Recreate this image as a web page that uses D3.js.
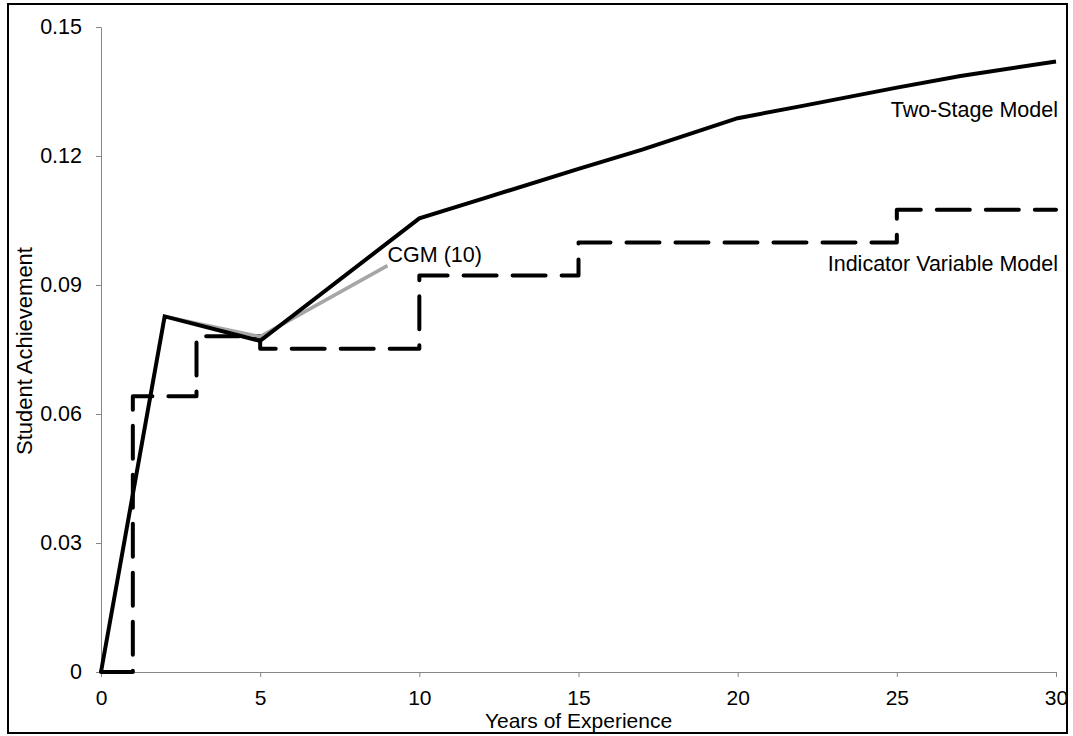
<!DOCTYPE html>
<meta charset="utf-8">
<style>
body { margin: 0; background: #fff; }
svg text { font-family: "Liberation Sans", Arial, sans-serif; fill: #000; }
.axis path, .axis line { stroke: #868686; }
.axis text { font-size: 21.5px; }
.axis.x-axis text { font-size: 21px; }
</style>
<body>
<script src="https://cdn.jsdelivr.net/npm/d3@7"></script>
<script>

// chart values
var twoStageYears = [0, 2, 5, 10, 12, 15, 17, 20, 22, 25, 27, 30];
var twoStageValues = [0, 0.0827, 0.0770, 0.1055, 0.1101, 0.1170, 0.1215, 0.1288, 0.1316, 0.1359, 0.1386, 0.1420];

var indicatorYears = [0, 1, 3, 5, 10, 15, 25, 30];
var indicatorValues = [0, 0.0641, 0.0781, 0.0752, 0.0922, 0.0999, 0.1075, 0.1075];

var cgmYears = [2, 5, 9];
var cgmValues = [0.0827, 0.0780, 0.0945];

var xTicks = [0, 5, 10, 15, 20, 25, 30];
var yTicks = [0, 0.03, 0.06, 0.09, 0.12, 0.15];

var W = 1073, H = 736;
var margin = {top: 27, right: 17, bottom: 64, left: 101},
    width = 1056 - margin.left,
    height = 672 - margin.top;

var svg = d3.select("body").append("svg")
    .attr("width", W)
    .attr("height", H);

// outer frame
svg.append("rect")
    .attr("x", 8).attr("y", 4)
    .attr("width", 1059).attr("height", 729)
    .attr("fill", "none")
    .attr("stroke", "#000")
    .attr("stroke-width", 2);

var g = svg.append("g")
    .attr("transform", "translate(" + margin.left + "," + margin.top + ")");

var x = d3.scaleLinear().domain([0, 30]).range([0, width]);
var y = d3.scaleLinear().domain([0, 0.15]).range([height, 0]);

// axes
g.append("g")
    .attr("class", "axis x-axis")
    .attr("transform", "translate(0," + height + ")")
    .call(d3.axisBottom(x).tickValues(xTicks).tickSize(5).tickSizeOuter(0).tickPadding(13)
      .tickFormat(d3.format("d")));

g.append("g")
    .attr("class", "axis")
    .call(d3.axisLeft(y).tickValues(yTicks).tickSize(5).tickSizeOuter(0).tickPadding(14)
      .tickFormat(function(d) { return d === 0 ? "0" : d3.format(".2f")(d); }));

g.selectAll(".axis .domain").attr("stroke", "#868686");

// indicator variable model (step)
var stepLine = d3.line()
    .x(function(d) { return x(d[0]); })
    .y(function(d) { return y(d[1]); })
    .curve(d3.curveStepAfter);

g.append("path")
    .datum(d3.zip(indicatorYears, indicatorValues))
    .attr("d", stepLine)
    .attr("fill", "none")
    .attr("stroke", "#000")
    .attr("stroke-width", 4)
    .attr("stroke-dasharray", "33,16")
    .attr("stroke-linecap", "round")
    .attr("stroke-linejoin", "round");

var line = d3.line()
    .x(function(d) { return x(d[0]); })
    .y(function(d) { return y(d[1]); });

// CGM (10)
g.append("path")
    .datum(d3.zip(cgmYears, cgmValues))
    .attr("d", line)
    .attr("fill", "none")
    .attr("stroke", "#a6a6a6")
    .attr("stroke-width", 3.5);

// two-stage model
g.append("path")
    .datum(d3.zip(twoStageYears, twoStageValues))
    .attr("d", line)
    .attr("fill", "none")
    .attr("stroke", "#000")
    .attr("stroke-width", 4);

// line labels
g.append("text")
    .attr("x", x(30) + 2).attr("y", y(0.1285) - 2)
    .attr("text-anchor", "end")
    .style("font-size", "21.5px")
    .text("Two-Stage Model");

g.append("text")
    .attr("x", x(30) + 2).attr("y", y(0.0945) + 5)
    .attr("text-anchor", "end")
    .style("font-size", "21.5px")
    .text("Indicator Variable Model");

g.append("text")
    .attr("x", x(9)).attr("y", y(0.0945) - 4)
    .style("font-size", "21.5px")
    .text("CGM (10)");

// axis titles
svg.append("text")
    .attr("x", margin.left + width / 2)
    .attr("y", 728)
    .attr("text-anchor", "middle")
    .style("font-size", "21px")
    .text("Years of Experience");

svg.append("text")
    .attr("transform", "translate(32," + 351 + ") rotate(-90)")
    .attr("text-anchor", "middle")
    .style("font-size", "22px")
    .text("Student Achievement");

</script>
</body>
